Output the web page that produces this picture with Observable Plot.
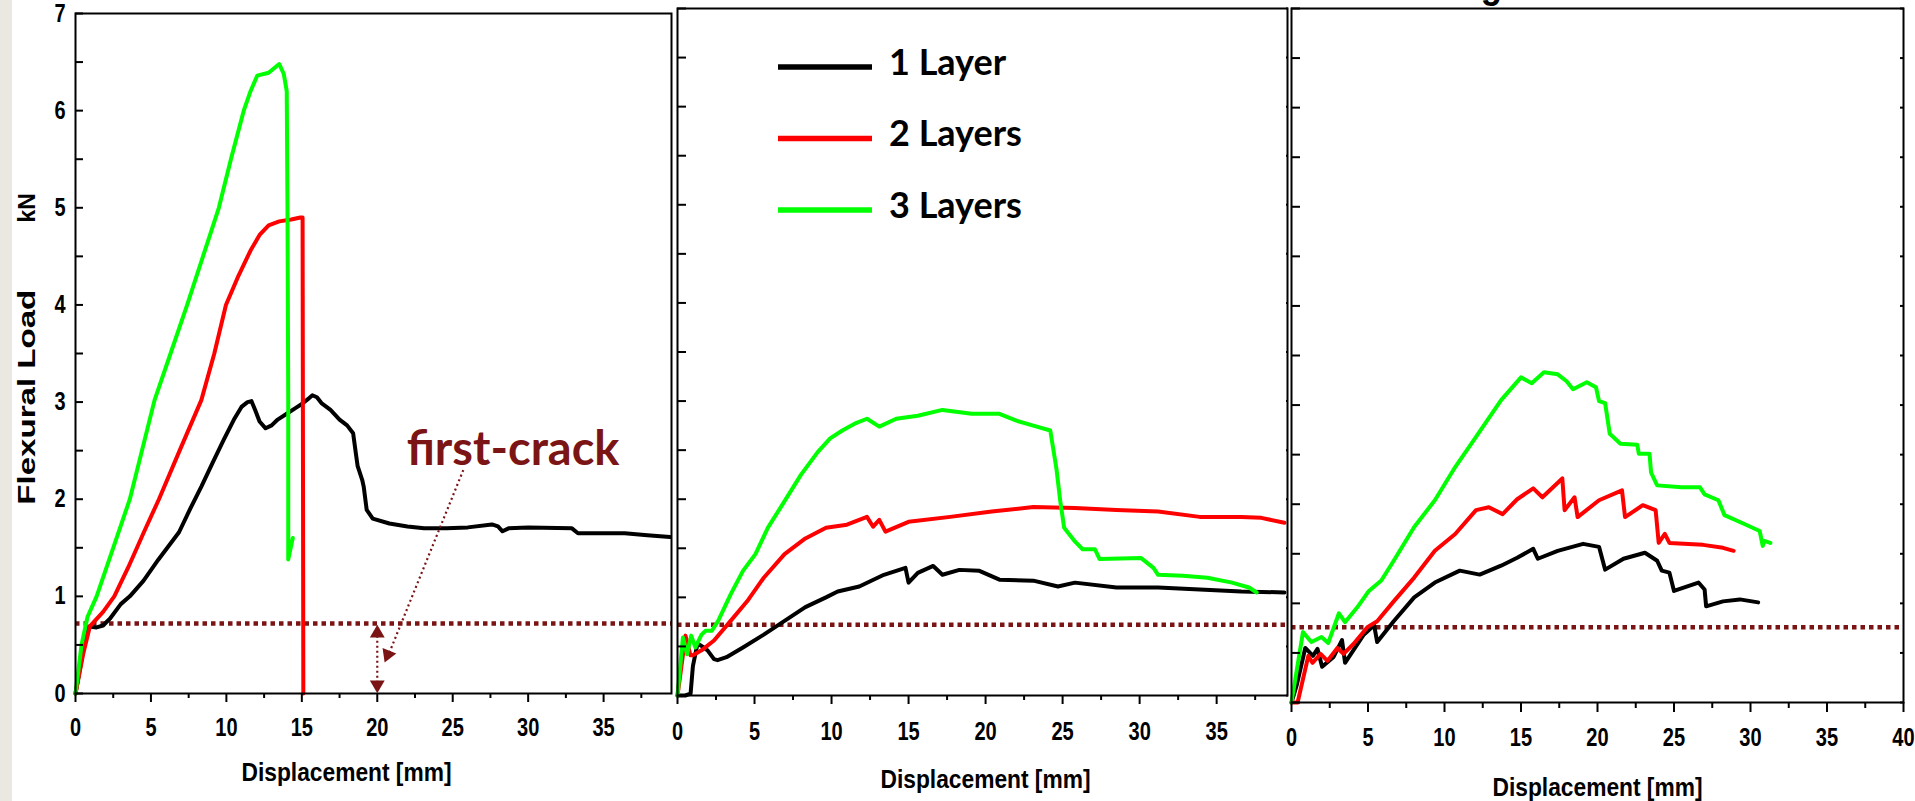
<!DOCTYPE html>
<html>
<head>
<meta charset="utf-8">
<script src="https://cdn.jsdelivr.net/npm/d3@7"></script>
<script src="https://cdn.jsdelivr.net/npm/@observablehq/plot@0.6"></script>
<style>
  html, body { margin: 0; padding: 0; background: #ffffff; }
  #wrap { position: relative; width: 1915px; height: 801px; overflow: hidden; background: #ffffff; }
  #strip { position: absolute; left: 0; top: 0; width: 12px; height: 801px; background: #ebe8e1; }
  .panel { position: absolute; top: 0; }
  #legend { position: absolute; left: 0; top: 0; pointer-events: none; }
</style>
</head>
<body>
<div id="wrap">
  <div id="strip"></div>
  <div id="p1" class="panel" style="left:0px"></div>
  <div id="p2" class="panel" style="left:672px"></div>
  <div id="p3" class="panel" style="left:1286px"></div>
  <svg id="legend" width="1915" height="801"></svg>
</div>
<script>
// ---------------- data ----------------
const seriesNames = ["1 Layer", "2 Layers", "3 Layers"];
const seriesColors = ["#000000", "#ff0000", "#00ff00"];
const panelTitles = ["Small Hole Size Zones", "", "Large Hole Size Zones"];

const xMajor = [0, 5, 10, 15, 20, 25, 30, 35, 40];
const xMinor = [2.5, 7.5, 12.5, 17.5, 22.5, 27.5, 32.5, 37.5];
const yMajor = [0, 1, 2, 3, 4, 5, 6, 7];
const yHalf = [0.5, 1.5, 2.5, 3.5, 4.5, 5.5, 6.5];

// first-crack load level (kN) in each panel
const firstCrack = [0.72, 0.72, 0.76];

// Panel 1 (displacement mm, load kN)
const p1Layer1 = [[0,0],[0.35,0.3],[0.75,0.66],[0.9,0.69],[1.4,0.68],[1.83,0.70],[2.28,0.77],[3.0,0.92],[3.6,1.0],[4.5,1.16],[5.5,1.38],[6.86,1.66],[7.6,1.9],[8.34,2.13],[9.1,2.38],[9.82,2.61],[10.5,2.82],[11.0,2.95],[11.4,3.0],[11.66,3.01],[11.9,2.92],[12.2,2.80],[12.6,2.73],[13.0,2.76],[13.4,2.82],[14.0,2.88],[14.6,2.94],[15.0,2.98],[15.4,3.03],[15.7,3.07],[16.0,3.05],[16.3,2.99],[16.9,2.92],[17.5,2.82],[18.0,2.76],[18.4,2.68],[18.6,2.45],[18.7,2.34],[19.0,2.2],[19.1,2.13],[19.3,1.89],[19.7,1.80],[20.8,1.75],[22.0,1.72],[23.1,1.70],[24.6,1.70],[26.0,1.71],[27.6,1.74],[28.0,1.72],[28.3,1.67],[28.7,1.70],[30.0,1.71],[32.9,1.70],[33.3,1.65],[35.0,1.65],[36.4,1.65],[37.9,1.63],[39.4,1.61]];
const p1Layer2 = [[0,0],[0.5,0.4],[0.95,0.69],[1.83,0.84],[2.57,1.0],[3.5,1.3],[4.5,1.65],[5.53,2.0],[6.9,2.5],[8.34,3.02],[9.2,3.5],[9.97,4.0],[10.8,4.3],[11.6,4.56],[12.2,4.72],[12.8,4.82],[13.5,4.86],[14.3,4.88],[14.9,4.9],[15.05,4.9],[15.1,0]];
const p1Layer3 = [[0,0],[0.4,0.5],[0.8,0.79],[1.4,1.0],[2.5,1.5],[3.6,2.0],[5.24,3.02],[6.3,3.5],[7.4,4.0],[9.5,5.0],[10.3,5.5],[11.15,6.0],[11.6,6.2],[12.04,6.36],[12.8,6.39],[13.5,6.48],[13.8,6.38],[14.0,6.2],[14.05,5.0],[14.1,3.0],[14.1,1.38],[14.4,1.6]];

// Panel 2
const p2Layer1 = [[0,0],[0.5,0],[0.85,0.02],[1.0,0.3],[1.3,0.53],[1.6,0.5],[1.95,0.46],[2.37,0.37],[2.6,0.36],[3.18,0.39],[4.25,0.49],[5.6,0.62],[6.95,0.76],[8.3,0.9],[9.64,1.0],[10.4,1.06],[11.8,1.11],[13.4,1.23],[14.8,1.30],[15.0,1.15],[15.6,1.25],[16.6,1.32],[17.2,1.23],[18.3,1.28],[19.6,1.27],[20.9,1.18],[23.1,1.17],[24.7,1.11],[25.8,1.15],[28.5,1.10],[31.2,1.10],[33.9,1.08],[36.6,1.06],[39.4,1.05]];
const p2Layer2 = [[0,0],[0.52,0.61],[0.84,0.41],[1.0,0.41],[1.56,0.46],[2.37,0.56],[3.45,0.76],[4.52,0.96],[5.6,1.2],[6.95,1.44],[8.3,1.6],[9.64,1.71],[11.0,1.74],[12.3,1.82],[12.7,1.72],[13.1,1.79],[13.5,1.67],[15.0,1.77],[17.7,1.82],[20.4,1.875],[23.1,1.92],[25.8,1.91],[28.5,1.89],[31.2,1.875],[33.9,1.82],[36.6,1.82],[37.9,1.81],[39.4,1.76]];
const p2Layer3 = [[0,0],[0.35,0.59],[0.62,0.42],[0.89,0.61],[1.16,0.49],[1.56,0.62],[1.83,0.66],[2.23,0.66],[2.64,0.76],[3.45,1.03],[4.25,1.27],[5.06,1.44],[5.87,1.71],[6.95,1.98],[8.02,2.25],[9.1,2.48],[9.91,2.62],[10.7,2.70],[11.5,2.77],[12.3,2.82],[13.1,2.74],[14.2,2.82],[15.6,2.85],[17.2,2.91],[19.1,2.87],[20.9,2.87],[22.0,2.80],[23.1,2.75],[24.2,2.70],[24.6,2.31],[24.85,1.98],[25.1,1.71],[25.8,1.57],[26.3,1.49],[27.1,1.49],[27.4,1.39],[30.1,1.40],[30.9,1.30],[31.2,1.23],[32.8,1.22],[34.4,1.20],[36.0,1.15],[37.1,1.10],[37.6,1.05]];

// Panel 3
const p3Layer1 = [[0,0],[0.35,0.18],[0.9,0.55],[1.4,0.47],[1.7,0.54],[2.0,0.36],[2.75,0.46],[3.3,0.63],[3.5,0.40],[4.7,0.68],[5.4,0.78],[5.6,0.61],[6.68,0.82],[8.02,1.06],[9.37,1.21],[11.0,1.33],[12.3,1.29],[13.7,1.38],[14.75,1.46],[15.8,1.55],[16.1,1.45],[17.4,1.53],[19.06,1.60],[20.1,1.57],[20.5,1.34],[21.7,1.45],[23.1,1.51],[23.9,1.43],[24.2,1.33],[24.7,1.31],[25.0,1.125],[26.6,1.21],[27.0,1.14],[27.1,0.97],[28.2,1.02],[29.3,1.04],[30.5,1.01]];
const p3Layer2 = [[0,0],[0.4,0],[1.1,0.47],[1.37,0.40],[1.9,0.49],[2.35,0.42],[3.0,0.55],[3.4,0.49],[4.05,0.59],[4.96,0.76],[5.6,0.82],[6.68,1.02],[8.02,1.26],[9.37,1.53],[10.7,1.70],[12.06,1.94],[12.9,1.97],[13.8,1.90],[14.75,2.05],[15.8,2.16],[16.4,2.07],[17.7,2.26],[17.85,1.94],[18.5,2.07],[18.7,1.87],[20.1,2.04],[21.6,2.14],[21.8,1.87],[22.96,1.99],[23.8,1.94],[24.0,1.61],[24.4,1.70],[24.7,1.61],[26.9,1.59],[28.2,1.56],[28.9,1.53]];
const p3Layer3 = [[0,0],[0.75,0.71],[1.3,0.61],[1.96,0.66],[2.4,0.6],[3.1,0.9],[3.5,0.81],[4.3,0.96],[5.06,1.125],[5.87,1.23],[6.68,1.43],[8.02,1.77],[9.37,2.04],[10.7,2.375],[12.06,2.68],[13.7,3.05],[15.0,3.28],[15.7,3.22],[16.5,3.33],[17.4,3.31],[17.98,3.24],[18.4,3.16],[19.3,3.23],[19.9,3.18],[20.1,3.04],[20.5,3.02],[20.8,2.71],[21.5,2.61],[22.6,2.60],[22.7,2.51],[23.4,2.51],[23.5,2.32],[23.9,2.19],[25.5,2.17],[26.7,2.17],[27.0,2.10],[27.9,2.04],[28.3,1.89],[29.6,1.80],[30.6,1.73],[30.8,1.58],[30.9,1.63],[31.3,1.61]];

// first-crack annotation (panel 1)
const crackLabel = [{x: 29.0, y: 2.35, text: "first-crack"}];
const crackPointer = [{x1: 25.7, y1: 2.30, x2: 20.8, y2: 0.42}];
const crackSpan = [{x: 20, y1: 0.06, y2: 0.66}];
const crackHeads = [{x: 20.7, y: 0.40, r: 202}, {x: 20, y: 0.62, r: 0}, {x: 20, y: 0.09, r: 180}];

// ---------------- drawing ----------------
const crackColor = "#7b1414";
const baseFont = '"Liberation Sans", Arial, sans-serif';

function seriesMarks(list) {
  return list.map((pts, i) => Plot.line(pts, {
    x: d => d[0], y: d => d[1], stroke: seriesColors[i],
    strokeWidth: 4, strokeLinejoin: "round", strokeLinecap: "round"
  }));
}

function panel(cfg) {
  const xm = xMajor.filter(v => v <= cfg.xMax + 0.01);
  const xn = xMinor.filter(v => v <= cfg.xMax + 0.01);
  const marks = [
    Plot.ruleY([firstCrack[cfg.idx]], {stroke: crackColor, strokeWidth: 4.5, strokeDasharray: "4.5,4"}),
    ...seriesMarks(cfg.series),
    Plot.frame({stroke: "black", strokeWidth: 2}),
    Plot.axisX(xm, {tickSize: cfg.xTick, tickPadding: cfg.xPad, tickFormat: d => String(d), strokeWidth: 2, label: null, fontSize: 25}),
    Plot.axisX(xn, {tickSize: Math.round(cfg.xTick * 0.6), tickFormat: () => "", strokeWidth: 2, label: null}),
    Plot.axisY(yMajor.concat(yHalf), {anchor: "left", tickSize: -cfg.yTick, tickFormat: () => "", strokeWidth: 2, label: null}),
    Plot.text(["Displacement [mm]"], {text: d => d, frameAnchor: "bottom", dx: cfg.labDx, dy: cfg.labDy, lineAnchor: "bottom", fontSize: 26})
  ];
  if (cfg.showY) {
    marks.push(Plot.axisY(yMajor, {anchor: "left", tickSize: 0, tickPadding: 10, tickFormat: d => String(d), label: null, fontSize: 25}));
    marks.push(Plot.text([{y: 3.05, t: "Flexural Load"}, {y: 5.0, t: "kN"}], {
      y: "y", text: "t", frameAnchor: "left", dx: -48, rotate: -90, textAnchor: "middle", lineAnchor: "middle",
      fontFamily: baseFont, fontWeight: "bold", fontSize: 23
    }));
  }
  if (cfg.rightTick) {
    marks.push(Plot.axisY(yMajor.concat(yHalf), {anchor: "right", tickSize: -cfg.rightTick, tickFormat: () => "", strokeWidth: 2, label: null}));
  }
  if (cfg.title) {
    marks.push(Plot.text([cfg.title], {text: d => d, frameAnchor: "top", dx: cfg.titleDx, dy: cfg.titleDy, lineAnchor: "bottom", fontSize: 40}));
  }
  if (cfg.annot) {
    marks.push(
      Plot.link(crackPointer, {x1: "x1", y1: "y1", x2: "x2", y2: "y2", stroke: crackColor, strokeWidth: 2.2, strokeDasharray: "2,3"}),
      Plot.link(crackSpan, {x1: "x", x2: "x", y1: "y1", y2: "y2", stroke: crackColor, strokeWidth: 2.2, strokeDasharray: "2,3"}),
      Plot.dot(crackHeads, {x: "x", y: "y", rotate: "r", symbol: "triangle", r: 5.5, fill: crackColor, stroke: null}),
      Plot.text(crackLabel, {x: "x", y: "y", text: "text", fill: crackColor, lineAnchor: "bottom",
        fontFamily: "Lato, 'Open Sans', sans-serif", fontWeight: "bold", fontSize: 47})
    );
  }
  return Plot.plot({
    width: cfg.width, height: 801,
    marginLeft: cfg.ml, marginRight: cfg.mr, marginTop: cfg.mt, marginBottom: cfg.mb,
    x: {domain: [0, cfg.xMax]},
    y: {domain: [0, 7]},
    style: {fontFamily: baseFont, fontWeight: "bold", fontSize: "25px", background: "transparent",
            overflow: "visible", maxWidth: "none", color: "black"},
    marks
  });
}

// condense the Arial-like texts the way the reference figure is squeezed
function condense(svg, titleLen) {
  svg.querySelectorAll("text").forEach(t => {
    const s = t.textContent;
    let len = null;
    if (s === "Flexural Load") len = 215;
    else if (s === "Displacement [mm]") len = 210;
    else if (/^\d+$/.test(s)) len = t.getComputedTextLength() * 0.8;
    else if (panelTitles.includes(s) && s) len = titleLen;
    if (len) {
      t.setAttribute("textLength", len.toFixed(1));
      t.setAttribute("lengthAdjust", "spacingAndGlyphs");
    }
  });
}

const cfgs = [
  {el: "p1", idx: 0, width: 675, ml: 75, mr: 4, mt: 13, mb: 108, xMax: 39.5,
   series: [p1Layer1, p1Layer2, p1Layer3], xTick: 9, xPad: 16, yTick: 8,
   labDx: -27, labDy: 87, showY: true, annot: true,
   title: panelTitles[0], titleDx: -23, titleDy: -14, titleLen: 382},
  {el: "p2", idx: 1, width: 619, ml: 5, mr: 4, mt: 8, mb: 106, xMax: 39.6,
   series: [p2Layer1, p2Layer2, p2Layer3], xTick: 9, xPad: 18, yTick: 9,
   labDx: 3, labDy: 92, rightTick: 2},
  {el: "p3", idx: 2, width: 629, ml: 5, mr: 12, mt: 8, mb: 99, xMax: 40,
   series: [p3Layer1, p3Layer2, p3Layer3], xTick: 10, xPad: 16, yTick: 9,
   labDx: 0, labDy: 93, rightTick: 4,
   title: panelTitles[2], titleDx: 15, titleDy: -11, titleLen: 372}
];
cfgs.forEach(c => {
  const svg = panel(c);
  document.getElementById(c.el).appendChild(svg);
  condense(svg, c.titleLen);
});

// legend (inside middle panel)
const lg = d3.select("#legend");
const legendRows = seriesNames.map((name, i) => ({name, color: seriesColors[i], y: 67 + i * 71.5}));
lg.selectAll("line").data(legendRows).join("line")
  .attr("x1", 778).attr("x2", 872).attr("y1", d => d.y).attr("y2", d => d.y)
  .attr("stroke", d => d.color).attr("stroke-width", 5.5);
lg.selectAll("text").data(legendRows).join("text")
  .attr("x", 889).attr("y", d => d.y + 7.5)
  .attr("font-family", "Lato, 'Open Sans', sans-serif").attr("font-weight", "bold").attr("font-size", 36)
  .attr("fill", "#000").text(d => d.name);
</script>
</body>
</html>
